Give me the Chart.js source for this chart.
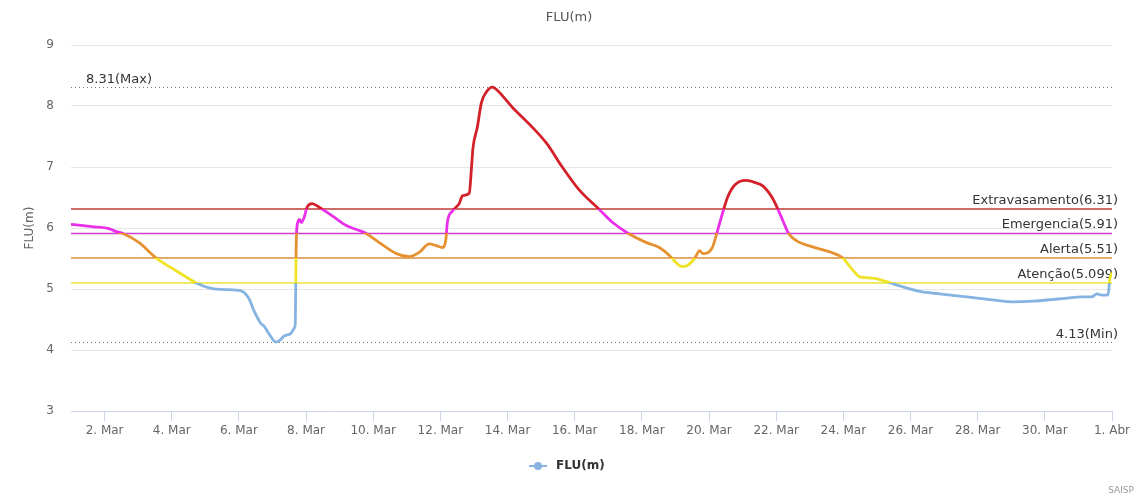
<!DOCTYPE html>
<html>
<head>
<meta charset="utf-8">
<title>FLU(m)</title>
<script src="https://cdn.jsdelivr.net/npm/chart.js@4.4.1/dist/chart.umd.min.js"></script>
<style>
  html, body { margin: 0; padding: 0; background: #fff; }
  #wrap { position: relative; width: 1138px; height: 499px; }
</style>
</head>
<body>
<div id="wrap"><canvas id="fluChart"></canvas></div>
<script>
// ── Data (x = days since 1. Mar 00:00) ─────────
const days = [
  0.00, 0.69, 1.13, 1.35, 1.55, 2.03, 2.53, 3.13, 3.73, 4.11,
  4.60, 5.07, 5.30, 5.45, 5.66, 5.75, 5.90, 6.10, 6.26, 6.35,
  6.56, 6.65, 6.68, 6.70, 6.72, 6.76, 6.80, 6.86, 6.94, 7.03,
  7.18, 7.39, 7.78, 8.20, 8.58, 8.79, 9.18, 9.69, 10.07, 10.37,
  10.67, 10.88, 11.06, 11.16, 11.21, 11.36, 11.56, 11.66, 11.86, 11.92,
  11.97, 12.10, 12.22, 12.37, 12.55, 12.67, 13.14, 13.74, 14.16, 14.63,
  15.14, 15.74, 16.13, 16.60, 17.14, 17.52, 17.82, 17.97, 18.18, 18.33,
  18.57, 18.72, 18.81, 19.08, 19.23, 19.40, 19.55, 19.76, 20.10, 20.40,
  20.60, 20.90, 21.16, 21.37, 21.61, 22.09, 22.59, 22.98, 23.25, 23.49,
  23.87, 24.29, 24.68, 25.28, 25.87, 26.68, 27.45, 28.05, 28.64, 29.45,
  30.13, 30.40, 30.55, 30.70, 30.88, 30.94, 31.00
];
const flu = [
  6.06, 6.02, 5.99, 5.94, 5.91, 5.76, 5.51, 5.30, 5.10, 5.02,
  4.99, 4.97, 4.84, 4.64, 4.43, 4.39, 4.26, 4.13, 4.18, 4.23,
  4.28, 4.36, 4.45, 5.50, 5.95, 6.10, 6.14, 6.09, 6.17, 6.34,
  6.40, 6.34, 6.20, 6.04, 5.96, 5.91, 5.76, 5.58, 5.53, 5.60,
  5.74, 5.71, 5.68, 5.80, 6.10, 6.28, 6.40, 6.53, 6.57, 6.94,
  7.31, 7.65, 8.05, 8.23, 8.31, 8.27, 7.98, 7.65, 7.39, 7.00,
  6.62, 6.30, 6.09, 5.91, 5.76, 5.68, 5.55, 5.46, 5.37, 5.38,
  5.50, 5.63, 5.58, 5.66, 5.91, 6.24, 6.50, 6.70, 6.78, 6.74,
  6.69, 6.48, 6.17, 5.91, 5.79, 5.69, 5.61, 5.51, 5.33, 5.20,
  5.18, 5.12, 5.05, 4.96, 4.92, 4.87, 4.82, 4.79, 4.80, 4.84,
  4.87, 4.87, 4.92, 4.90, 4.90, 5.18, 5.27
];
const tickDays = [1, 3, 5, 7, 9, 11, 13, 15, 17, 19, 21, 23, 25, 27, 29, 31];
const tickLabels = ['2. Mar', '4. Mar', '6. Mar', '8. Mar', '10. Mar', '12. Mar', '14. Mar', '16. Mar',
                    '18. Mar', '20. Mar', '22. Mar', '24. Mar', '26. Mar', '28. Mar', '30. Mar', '1. Abr'];
const limitNames = ['Atenção', 'Alerta', 'Emergencia', 'Extravasamento'];
const limitValues = [5.099, 5.51, 5.91, 6.31];
const maxValue = 8.31;
const minValue = 4.13;

// ── Styles ──────────────────────────────────
const FONT = '"DejaVu Sans", Verdana, sans-serif';
const zoneColors = ['#85b4e2', '#efe327', '#e6912f', '#e92fe9', '#d3212a'];
const limitColors = ['#ebe33a', '#d98f3c', '#d03fd0', '#c03a36'];

// gradient with hard stops so the line takes the colour of its zone
function zoneGradient(context) {
  const chart = context.chart;
  const area = chart.chartArea;
  if (!area) return zoneColors[0];
  const y = chart.scales.y;
  const h = area.bottom - area.top;
  const g = chart.ctx.createLinearGradient(0, area.bottom, 0, area.top);
  let prev = 0;
  limitValues.forEach((v, i) => {
    const p = Math.min(1, Math.max(0, (area.bottom - y.getPixelForValue(v)) / h));
    g.addColorStop(prev, zoneColors[i]);
    g.addColorStop(p, zoneColors[i]);
    prev = p;
  });
  g.addColorStop(prev, zoneColors[4]);
  g.addColorStop(1, zoneColors[4]);
  return g;
}

// ── Threshold / max / min lines ─────────────
const limitLines = {
  id: 'limitLines',
  beforeDatasetsDraw(chart) {
    const { ctx, chartArea: a, scales: { y } } = chart;
    ctx.save();
    ctx.font = '13px ' + FONT;
    ctx.lineWidth = 1.5;
    limitValues.forEach((v, i) => {
      const py = y.getPixelForValue(v);
      ctx.strokeStyle = limitColors[i];
      ctx.beginPath();
      ctx.moveTo(a.left, py);
      ctx.lineTo(a.right, py);
      ctx.stroke();
      ctx.fillStyle = '#333';
      ctx.textAlign = 'right';
      ctx.fillText(limitNames[i] + '(' + v + ')', a.right + 6, py - 5);
    });

    ctx.setLineDash([1, 3]);
    ctx.strokeStyle = '#777';
    ctx.lineWidth = 1;
    [maxValue, minValue].forEach((v, i) => {
      const py = Math.round(y.getPixelForValue(v)) + 0.5;
      ctx.beginPath();
      ctx.moveTo(a.left, py);
      ctx.lineTo(a.right, py);
      ctx.stroke();
      ctx.fillStyle = '#333';
      if (i === 0) {
        ctx.textAlign = 'left';
        ctx.fillText(v + '(Max)', a.left + 15, py - 5);
      } else {
        ctx.textAlign = 'right';
        ctx.fillText(v + '(Min)', a.right + 6, py - 5);
      }
    });
    ctx.restore();
  }
};

// ── Title, legend, credits ──────────────────
const chrome = {
  id: 'chrome',
  afterDraw(chart) {
    const ctx = chart.ctx;
    ctx.save();
    ctx.textBaseline = 'middle';

    ctx.fillStyle = '#555';
    ctx.font = '13px ' + FONT;
    ctx.textAlign = 'center';
    ctx.fillText('FLU(m)', 569, 18);

    // legend
    ctx.strokeStyle = zoneColors[0];
    ctx.lineWidth = 2;
    ctx.beginPath();
    ctx.moveTo(529, 466);
    ctx.lineTo(547, 466);
    ctx.stroke();
    ctx.fillStyle = zoneColors[0];
    ctx.beginPath();
    ctx.arc(538, 466, 4, 0, Math.PI * 2);
    ctx.fill();
    ctx.fillStyle = '#333';
    ctx.font = 'bold 12px ' + FONT;
    ctx.textAlign = 'left';
    ctx.fillText('FLU(m)', 556, 466);

    ctx.fillStyle = '#999';
    ctx.font = '9px ' + FONT;
    ctx.textAlign = 'right';
    ctx.fillText('SAISP', 1134, 491);
    ctx.restore();
  }
};

// ── Chart ───────────────────────────────────
new Chart(document.getElementById('fluChart'), {
  type: 'line',
  data: {
    datasets: [{
      label: 'FLU(m)',
      data: days.map((d, i) => ({ x: d, y: flu[i] })),
      borderColor: zoneGradient,
      borderWidth: 2.8,
      pointRadius: 0,
      fill: false,
      cubicInterpolationMode: 'monotone'
    }]
  },
  options: {
    responsive: true,
    maintainAspectRatio: false,
    animation: false,
    events: [],
    layout: { padding: { top: 45, right: 26, bottom: 0, left: 0 } },
    plugins: {
      legend: { display: false },
      title: { display: false },
      tooltip: { enabled: false }
    },
    scales: {
      x: {
        type: 'linear',
        min: 0,
        max: 31,
        afterBuildTicks: s => { s.ticks = tickDays.map(v => ({ value: v })); },
        afterFit: s => { s.height = 88; },
        grid: { drawOnChartArea: false, drawTicks: true, tickLength: 10, color: '#ccd6eb' },
        border: { display: true, color: '#ccd6eb' },
        ticks: {
          autoSkip: false,
          maxRotation: 0,
          padding: 3,
          color: '#666',
          font: { size: 12, family: FONT },
          callback: v => tickLabels[tickDays.indexOf(v)]
        }
      },
      y: {
        min: 3,
        max: 9,
        afterFit: s => { s.width = 71; },
        grid: { color: '#e6e6e6', drawTicks: false },
        border: { display: false },
        ticks: {
          stepSize: 1,
          padding: 17,
          color: '#666',
          font: { size: 12, family: FONT }
        },
        title: {
          display: true,
          text: 'FLU(m)',
          color: '#666',
          font: { size: 12, family: FONT },
          padding: { top: 23 }
        }
      }
    }
  },
  plugins: [limitLines, chrome]
});
</script>
</body>
</html>
